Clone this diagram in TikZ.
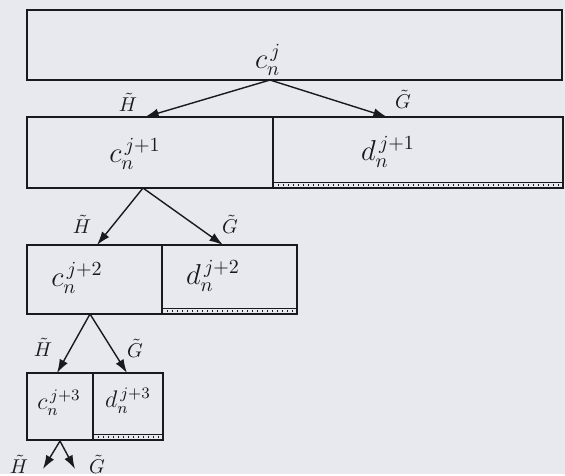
\documentclass[tikz,border=0pt]{standalone}
\usepackage{amsmath}
\usepackage{tikz}
\usetikzlibrary{arrows.meta,positioning}
\definecolor{paper}{RGB}{231,233,239}
\definecolor{ink}{RGB}{25,25,30}
\tikzset{
  cell/.style={draw=ink,line width=0.9pt,inner sep=0pt,outer sep=0pt,anchor=north west},
  arr/.style={-{Latex[length=2.4mm,width=1.6mm]},draw=ink,line width=0.7pt},
  flt/.style={font=\normalsize,text=ink,inner sep=1pt},
  val/.style={font=\Large,text=ink,inner sep=1pt},
  sval/.style={font=\large,text=ink,inner sep=1pt},
  strip/.style={draw=ink,line width=0.5pt}
}
\begin{document}
\begin{tikzpicture}[x=0.5pt,y=-0.5pt]
\fill[paper] (0,0) rectangle (565,474);
% level 0
\node[cell,minimum width=267.5pt,minimum height=35pt] (b0) at (27,10) {};
\node[val] (t0) at (268,60) {$c_n^{\,j}$};
% level 1
\node[cell,minimum width=123pt,minimum height=35.5pt] (c1) at (27,117) {};
\node[cell,minimum width=145pt,minimum height=35.5pt,right=0pt of c1] (d1) {};
\node[val] (tc1) at (135,154) {$c_n^{\,j+1}$};
\node[val] (td1) at (388,152) {$d_n^{\,j+1}$};
\draw[strip] ([yshift=3pt]d1.south west) -- ([yshift=3pt]d1.south east);
\draw[strip,dotted,line width=0.8pt] ([yshift=1.5pt]d1.south west) -- ([yshift=1.5pt]d1.south east);
\coordinate (s0) at (270,80);
\coordinate (h1) at (145,117);
\coordinate (g1) at (387,117);
\draw[arr] (s0) -- (h1);
\draw[arr] (s0) -- (g1);
\node[flt] (lh1) at (128,102) {$\tilde{H}$};
\node[flt] (lg1) at (403,99) {$\tilde{G}$};
% level 2
\node[cell,minimum width=67.5pt,minimum height=34.5pt] (c2) at (27,245) {};
\node[cell,minimum width=67.5pt,minimum height=34.5pt,right=0pt of c2] (d2) {};
\node[val] (tc2) at (77,278) {$c_n^{\,j+2}$};
\node[val] (td2) at (213,276) {$d_n^{\,j+2}$};
\draw[strip] ([yshift=3pt]d2.south west) -- ([yshift=3pt]d2.south east);
\draw[strip,dotted,line width=0.8pt] ([yshift=1.5pt]d2.south west) -- ([yshift=1.5pt]d2.south east);
\coordinate (s1) at (143,188);
\coordinate (h2) at (97,245);
\coordinate (g2) at (223,245);
\draw[arr] (s1) -- (h2);
\draw[arr] (s1) -- (g2);
\node[flt] (lh2) at (82,224) {$\tilde{H}$};
\node[flt] (lg2) at (230,224) {$\tilde{G}$};
% level 3
\node[cell,minimum width=33pt,minimum height=33.5pt] (c3) at (27,373) {};
\node[cell,minimum width=35pt,minimum height=33.5pt,right=0pt of c3] (d3) {};
\node[sval] (tc3) at (59,403) {$c_n^{\,j+3}$};
\node[sval] (td3) at (128,401) {$d_n^{\,j+3}$};
\draw[strip] ([yshift=3pt]d3.south west) -- ([yshift=3pt]d3.south east);
\draw[strip,dotted,line width=0.8pt] ([yshift=1.5pt]d3.south west) -- ([yshift=1.5pt]d3.south east);
\coordinate (s2) at (90,314);
\coordinate (h3) at (57,373);
\coordinate (g3) at (127,373);
\draw[arr] (s2) -- (h3);
\draw[arr] (s2) -- (g3);
\node[flt] (lh3) at (43,347) {$\tilde{H}$};
\node[flt] (lg3) at (135,348) {$\tilde{G}$};
% level 4
\coordinate (s3) at (60,441);
\coordinate (h4) at (43,469);
\coordinate (g4) at (75,469);
\draw[arr] (s3) -- (h4);
\draw[arr] (s3) -- (g4);
\node[flt] (lh4) at (19,464) {$\tilde{H}$};
\node[flt] (lg4) at (97,464) {$\tilde{G}$};
\end{tikzpicture}
\end{document}
